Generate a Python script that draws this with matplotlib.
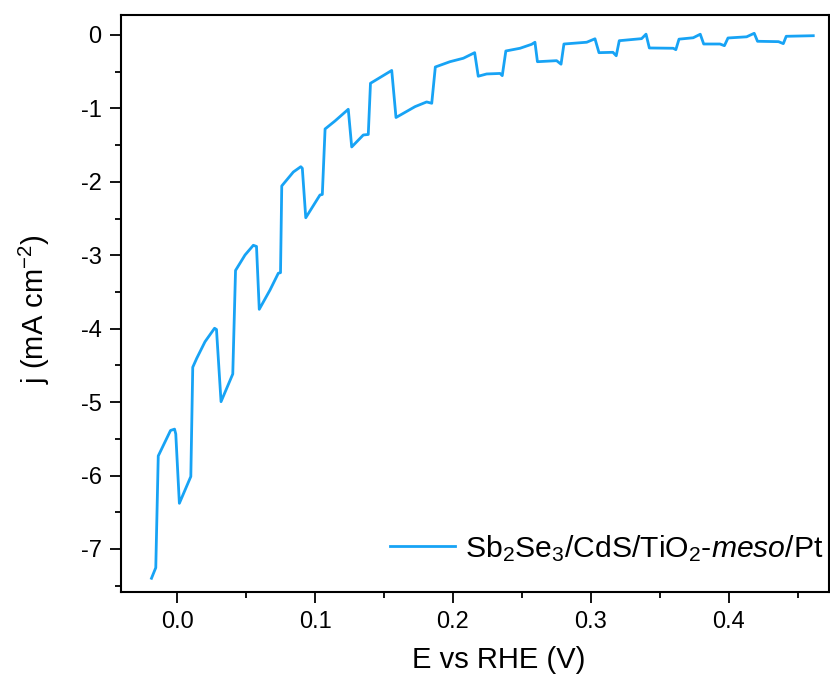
import matplotlib
matplotlib.use("Agg")
import matplotlib.pyplot as plt
from matplotlib.ticker import MultipleLocator

plt.rcParams['font.family'] = ['Liberation Sans', 'DejaVu Sans']
plt.rcParams['mathtext.fontset'] = 'custom'
plt.rcParams['mathtext.rm'] = 'Liberation Sans'
plt.rcParams['mathtext.it'] = 'Liberation Sans:italic'
plt.rcParams['mathtext.bf'] = 'Liberation Sans:bold'

# Potential (V vs RHE)
E = [-0.0185, -0.0154, -0.0136, -0.0047, -0.0018, -0.0009, 0.0017, 0.0100,
     0.0114, 0.0143, 0.0203, 0.0272, 0.0286, 0.0319, 0.0404, 0.0424,
     0.0493, 0.0553, 0.0576, 0.0596, 0.0674, 0.0734, 0.0750, 0.0759,
     0.0843, 0.0897, 0.0908, 0.0933, 0.1036, 0.1053, 0.1073, 0.1145,
     0.1241, 0.1266, 0.1350, 0.1386, 0.1402, 0.1556, 0.1587, 0.1725,
     0.1809, 0.1846, 0.1872, 0.1978, 0.2075, 0.2157, 0.2183, 0.2244,
     0.2341, 0.2357, 0.2383, 0.2486, 0.2570, 0.2594, 0.2612, 0.2751,
     0.2783, 0.2804, 0.2969, 0.3029, 0.3058, 0.3159, 0.3183, 0.3205,
     0.3367, 0.3399, 0.3423, 0.3596, 0.3615, 0.3638, 0.3741, 0.3792,
     0.3817, 0.3935, 0.3967, 0.3993, 0.4128, 0.4183, 0.4207, 0.4359,
     0.4394, 0.4415, 0.4611]
# Current density (mA cm^-2)
J = [-7.399, -7.255, -5.733, -5.386, -5.368, -5.434, -6.378, -6.013,
     -4.525, -4.403, -4.177, -3.994, -4.011, -4.994, -4.617, -3.207,
     -2.996, -2.864, -2.880, -3.736, -3.473, -3.245, -3.237, -2.056,
     -1.866, -1.794, -1.815, -2.489, -2.179, -2.172, -1.280, -1.171,
     -1.012, -1.525, -1.362, -1.355, -0.658, -0.483, -1.124, -0.976,
     -0.912, -0.930, -0.436, -0.364, -0.317, -0.241, -0.562, -0.531,
     -0.524, -0.554, -0.218, -0.181, -0.127, -0.099, -0.364, -0.350,
     -0.398, -0.123, -0.099, -0.052, -0.241, -0.236, -0.283, -0.078,
     -0.050, 0.011, -0.177, -0.181, -0.200, -0.057, -0.038, 0.010,
     -0.123, -0.123, -0.146, -0.041, -0.025, 0.023, -0.086, -0.091,
     -0.118, -0.018, -0.010]

label = r'Sb$_2$Se$_3$/CdS/TiO$_2$-$\mathit{meso}$/Pt'
xticks = [0.0, 0.1, 0.2, 0.3, 0.4]
yticks = [0, -1, -2, -3, -4, -5, -6, -7]

fig = plt.figure(figsize=(8.30, 6.84), dpi=100)
ax = fig.add_axes([121/830, 1-592/684, 708/830, 577/684])
ax.plot(E, J, color='#17A3F5', lw=2.0, label=label)

ax.set_xlim(-0.0406, 0.4725)
ax.set_ylim(-7.586, 0.272)
ax.set_xticks(xticks)
ax.set_xticklabels([f'{t:.1f}' for t in xticks])
ax.set_yticks(yticks)
ax.set_yticklabels([f'{t}' for t in yticks])
ax.xaxis.set_minor_locator(MultipleLocator(0.05))
ax.yaxis.set_minor_locator(MultipleLocator(0.5))
ax.tick_params(which='major', direction='out', length=8, width=1.3, labelsize=17, pad=6)
ax.tick_params(which='minor', direction='out', length=4, width=1.3)
for s in ax.spines.values():
    s.set_linewidth(1.5)

ax.set_xlabel('E vs RHE (V)', fontsize=21)
ax.set_ylabel(r'j (mA cm$^{-2}$)', fontsize=21)
ax.xaxis.set_label_coords(0.534, -0.093)
ax.yaxis.set_label_coords(-0.097, 0.49)

ax.legend(loc='center left', bbox_to_anchor=(0.38, 0.076), frameon=False,
          fontsize=21.7, handlelength=2.15, handletextpad=0.33, borderpad=0,
          borderaxespad=0)

fig.savefig('out.png', dpi=100)
